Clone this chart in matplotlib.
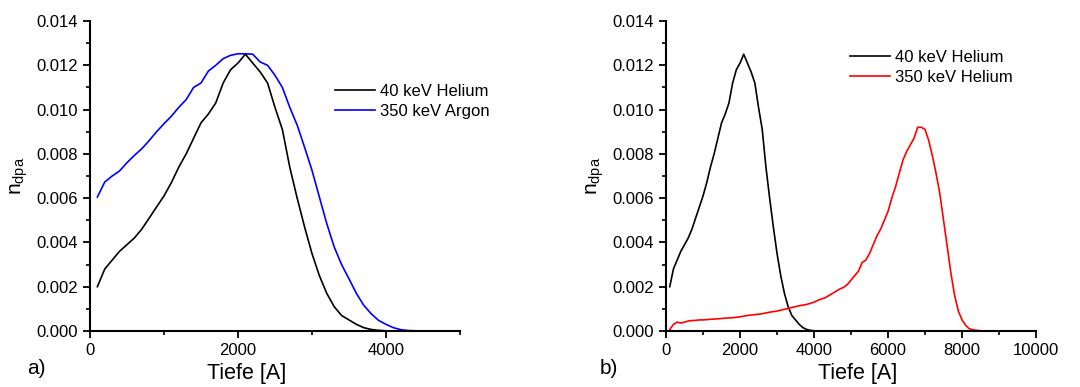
import numpy as np
import matplotlib.pyplot as plt
from matplotlib.ticker import MultipleLocator

plt.rcParams['font.family'] = ['Liberation Sans', 'DejaVu Sans']

# 40 keV Helium
he40_x = [100, 200, 300, 400, 500, 600, 700, 800, 900, 1000, 1100, 1200, 1300, 1400,
          1500, 1600, 1700, 1800, 1900, 2000, 2100, 2200, 2300, 2400, 2500, 2600, 2700,
          2800, 2900, 3000, 3100, 3200, 3300, 3400, 3500, 3600, 3700, 3800, 3900, 4000]
he40_y = [0.0020, 0.0028, 0.0032, 0.0036, 0.0039, 0.0042, 0.0046, 0.0051, 0.0056, 0.0061,
          0.0067, 0.0074, 0.0080, 0.0087, 0.0094, 0.0098, 0.0103, 0.0112, 0.0118, 0.0121,
          0.0125, 0.0121, 0.0117, 0.0112, 0.0101, 0.0091, 0.0074, 0.0060, 0.0047, 0.0035,
          0.0025, 0.0017, 0.0011, 0.0007, 0.0005, 0.0003, 0.00015, 0.00007, 0.00003, 0.00001]

# 350 keV Argon
ar350_x = [100, 200, 300, 400, 500, 600, 700, 800, 900, 1000, 1100, 1200, 1300, 1400,
           1500, 1600, 1700, 1800, 1900, 2000, 2100, 2200, 2300, 2400, 2500, 2600, 2700,
           2800, 2900, 3000, 3100, 3200, 3300, 3400, 3500, 3600, 3700, 3800, 3900, 4000,
           4100, 4200, 4300, 4400, 4500, 4700]
ar350_y = [0.00605, 0.00673, 0.0070, 0.00723, 0.0076, 0.00793, 0.00823, 0.0086, 0.0090,
           0.00936, 0.0097, 0.0101, 0.01045, 0.0110, 0.0112, 0.01174, 0.0120, 0.0123,
           0.01245, 0.01252, 0.01252, 0.0125, 0.01215, 0.0120, 0.01155, 0.0110, 0.0101,
           0.0093, 0.0083, 0.00726, 0.00605, 0.00485, 0.0038, 0.0030, 0.00236, 0.0017,
           0.00116, 0.00078, 0.00048, 0.0003, 0.00015, 0.00006, 0.00002, 0.00001, 0.0, 0.0]

# 350 keV Helium
he350_x = [100, 200, 300, 400, 500, 600, 700, 800, 900, 1000, 1200, 1400, 1600, 1800,
           2000, 2200, 2400, 2600, 2800, 3000, 3200, 3400, 3600, 3800, 4000, 4100, 4200,
           4300, 4400, 4500, 4600, 4700, 4800, 4900, 5000, 5100, 5200, 5300, 5400, 5500,
           5600, 5700, 5800, 5900, 6000, 6100, 6200, 6300, 6400, 6500, 6600, 6700, 6800,
           6900, 7000, 7100, 7200, 7300, 7400, 7500, 7600, 7700, 7800, 7900, 8000, 8100,
           8200, 8300, 8500, 8800]
he350_y = [0.00006, 0.0003, 0.0004, 0.00036, 0.0004, 0.00045, 0.00047, 0.00048, 0.0005,
           0.0005, 0.00053, 0.00055, 0.00058, 0.0006, 0.00064, 0.0007, 0.00074, 0.00078,
           0.00085, 0.0009, 0.00098, 0.00106, 0.00114, 0.0012, 0.0013, 0.00138, 0.00145,
           0.0015, 0.0016, 0.0017, 0.0018, 0.0019, 0.00197, 0.0021, 0.0023, 0.0025, 0.0027,
           0.0031, 0.0032, 0.0035, 0.0039, 0.0043, 0.0046, 0.0050, 0.0054, 0.0060, 0.0065,
           0.0071, 0.0077, 0.0081, 0.0084, 0.0087, 0.0092, 0.0092, 0.0091, 0.0086, 0.0079,
           0.0071, 0.0062, 0.0050, 0.0038, 0.0026, 0.0016, 0.0009, 0.0005, 0.00025, 0.0001,
           0.00005, 0.00001, 0.0]

fig = plt.figure(figsize=(10.8, 3.87), dpi=100)
ax1 = fig.add_axes([0.0833, 0.1447, 0.3426, 0.801])
ax2 = fig.add_axes([0.6167, 0.1447, 0.3426, 0.801])

ax1.plot(he40_x, he40_y, color='black', lw=1.2, label='40 keV Helium')
ax1.plot(ar350_x, ar350_y, color='blue', lw=1.2, label='350 keV Argon')
ax2.plot(he40_x, he40_y, color='black', lw=1.2, label='40 keV Helium')
ax2.plot(he350_x, he350_y, color='red', lw=1.2, label='350 keV Helium')

for ax, xmax, xl in [(ax1, 5000, 0.424), (ax2, 10000, 0.519)]:
    ax.set_xlim(0, xmax)
    ax.set_ylim(0, 0.014)
    ax.xaxis.set_major_locator(MultipleLocator(2000))
    ax.xaxis.set_minor_locator(MultipleLocator(1000))
    ax.yaxis.set_major_locator(MultipleLocator(0.002))
    ax.yaxis.set_minor_locator(MultipleLocator(0.001))
    ax.yaxis.set_major_formatter(plt.FormatStrFormatter('%.3f'))
    ax.spines['top'].set_visible(False)
    ax.spines['right'].set_visible(False)
    ax.spines['left'].set_linewidth(1.5)
    ax.spines['bottom'].set_linewidth(1.5)
    ax.tick_params(which='major', direction='out', length=5, width=1.3, labelsize=12)
    ax.tick_params(which='minor', direction='out', length=3, width=1.2)
    ax.set_xlabel('Tiefe [A]', fontsize=15.5)
    ax.xaxis.set_label_coords(xl, -0.103)
    ax.set_ylabel(r'n$_{\mathregular{dpa}}$', fontsize=15, labelpad=5)

ax1.legend(loc='upper left', bbox_to_anchor=(0.64, 0.823), frameon=False, fontsize=12,
           handlelength=2.4, handletextpad=0.3, labelspacing=0.3, borderpad=0)
ax2.legend(loc='upper left', bbox_to_anchor=(0.475, 0.933), frameon=False, fontsize=12,
           handlelength=2.4, handletextpad=0.3, labelspacing=0.3, borderpad=0)

fig.text(36 / 1080, 1 - 368 / 387, 'a)', fontsize=15, ha='center', va='center')
fig.text(609 / 1080, 1 - 368 / 387, 'b)', fontsize=15, ha='center', va='center')

fig.savefig('out.png', dpi=100)
